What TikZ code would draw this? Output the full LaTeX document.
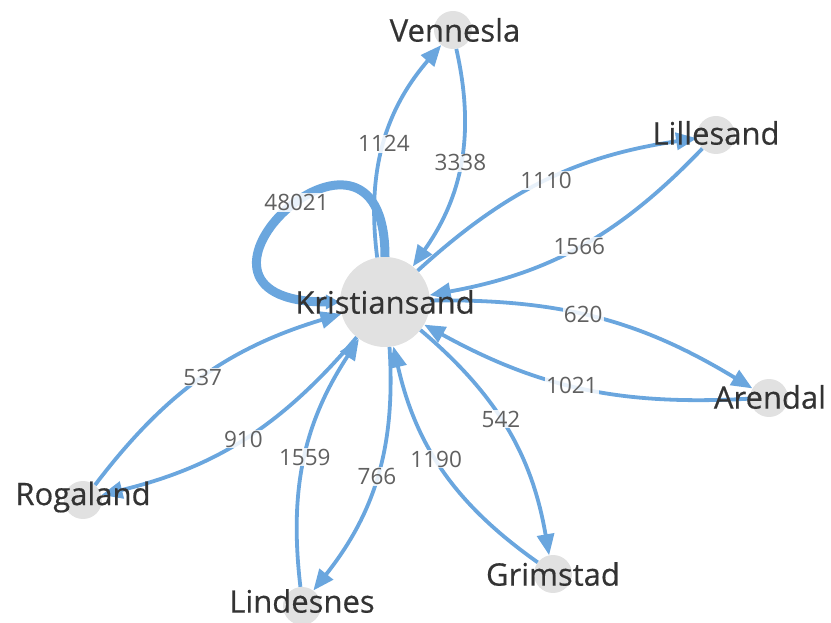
\documentclass[tikz,border=0pt]{standalone}
\usepackage{fontspec}
\setmainfont{Open Sans}
\newfontfamily\namefont{Open Sans}[FakeBold=0.5]
\usetikzlibrary{arrows.meta}
\definecolor{linkblue}{RGB}{106,166,222}
\definecolor{dotgrey}{RGB}{225,225,225}
\definecolor{namegrey}{RGB}{51,51,51}
\definecolor{countgrey}{RGB}{96,96,96}
\tikzstyle{hub} = [circle, fill=dotgrey, minimum size=90pt, inner sep=0pt]
\tikzstyle{town} = [circle, fill=dotgrey, minimum size=38pt, inner sep=0pt]
\tikzstyle{placename} = [text=namegrey, inner sep=0pt, font=\namefont\fontsize{31}{34}\selectfont]
\tikzstyle{flow} = [draw=linkblue, line width=3.8pt, -{Triangle[length=21pt,width=17pt]}]
\tikzstyle{selfflow} = [draw=linkblue, line width=9pt, -{Triangle[length=14pt,width=14pt]}]
\tikzstyle{count} = [fill=white, fill opacity=0.85, text opacity=1, text=countgrey, inner sep=1pt, font=\fontsize{22.5}{26}\selectfont]

\begin{document}
\begin{tikzpicture}[x=1pt, y=1pt]
\useasboundingbox (0,0) rectangle (831,622);

\node(kri) [hub] at (385,320) {};
\node(ven) [town] at (453,592) {};
\node(lil) [town] at (716,487) {};
\node(are) [town] at (769,224) {};
\node(gri) [town] at (553,48) {};
\node(lin) [town] at (302,16) {};
\node(rog) [town] at (83,122) {};

\draw [selfflow] (kri) to[out=90, in=180, out distance=185pt, in distance=200pt] node[count, pos=0.46]{48021} (kri);

\draw [flow] (kri) to[bend left=24] node[count]{1124} (ven);
\draw [flow] (ven) to[bend left=24] node[count]{3338} (kri);
\draw [flow] (kri) to[bend left=17] node[count]{1110} (lil);
\draw [flow] (lil) to[bend left=18] node[count]{1566} (kri);
\draw [flow] (kri) to[bend left=16] node[count, pos=0.45]{620} (are);
\draw [flow] (are) to[bend left=16] node[count, pos=0.53]{1021} (kri);
\draw [flow] (kri) to[bend left=20] node[count, pos=0.45]{542} (gri);
\draw [flow] (gri) to[bend left=21] node[count, pos=0.55]{1190} (kri);
\draw [flow] (kri) to[bend left=21] node[count]{766} (lin);
\draw [flow] (lin) to[bend left=20] node[count]{1559} (kri);
\draw [flow] (kri) to[bend left=18] node[count]{910} (rog);
\draw [flow] (rog) to[bend left=18] node[count]{537} (kri);

\node(kriname) [placename] at (kri) {Kristiansand};
\node(venname) [placename] at (455,592) {Vennesla};
\node(lilname) [placename] at (716,489) {Lillesand};
\node(arename) [placename] at (770,225) {Arendal};
\node(griname) [placename] at (553,48) {Grimstad};
\node(linname) [placename] at (302,21) {Lindesnes};
\node(rogname) [placename] at (83,125) {Rogaland};

\end{tikzpicture}
\end{document}
